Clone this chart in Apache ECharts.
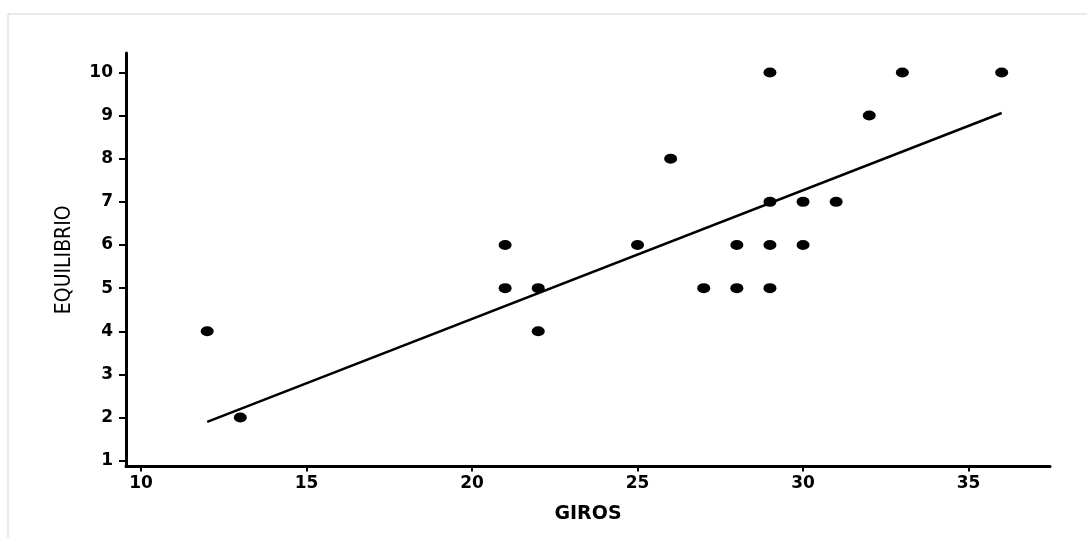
<!DOCTYPE html>
<html>
<head>
<meta charset="utf-8">
<script src="https://cdn.jsdelivr.net/npm/echarts@6/dist/echarts.min.js"></script>
<style>
html,body{margin:0;padding:0;background:#fff;}
#chart{width:1087px;height:538px;}
</style>
</head>
<body>
<div id="chart"></div>
<script>
// Data
const giros      = [12, 13, 21, 21, 22, 22, 25, 26, 27, 28, 28, 29, 29, 29, 29, 30, 30, 31, 32, 33, 36];
const equilibrio = [ 4,  2,  6,  5,  5,  4,  6,  8,  5,  6,  5, 10,  7,  6,  5,  7,  6,  7,  9, 10, 10];
// fitted line end points (as drawn in the reference)
const fitX = [12, 36];
const fitY = [1.9, 9.06];
// tick labels
const xTicks = [10, 15, 20, 25, 30, 35];
const yTicks = [1, 2, 3, 4, 5, 6, 7, 8, 9, 10];

const points = giros.map((g, i) => [g, equilibrio[i]]);
const fitLine = fitX.map((x, i) => [x, fitY[i]]);

const chart = echarts.init(document.getElementById('chart'), null, {renderer: 'canvas'});
const font = '"DejaVu Sans", sans-serif';
chart.setOption({
  animation: false,
  backgroundColor: '#fff',
  graphic: [
    {type: 'line', shape: {x1: 8, y1: 14, x2: 1087, y2: 14}, style: {stroke: '#d4d4d4', lineWidth: 1}},
    {type: 'line', shape: {x1: 8, y1: 14, x2: 8, y2: 538}, style: {stroke: '#d4d4d4', lineWidth: 1}}
  ],
  grid: {left: 126, right: 37, top: 53, bottom: 71.5, containLabel: false},
  xAxis: {
    type: 'value',
    min: 9.547, max: 37.46,
    name: 'GIROS',
    nameLocation: 'middle',
    nameGap: 38,
    nameTextStyle: {fontFamily: font, fontSize: 19, fontWeight: 'bold', color: '#000'},
    splitLine: {show: false},
    axisLine: {show: true, onZero: false, lineStyle: {color: '#000', width: 3}},
    axisTick: {show: true, length: 5, lineStyle: {color: '#000', width: 2}, customValues: xTicks},
    axisLabel: {fontFamily: font, fontSize: 17, fontWeight: 'bold', color: '#000', margin: 9, customValues: xTicks}
  },
  yAxis: {
    type: 'value',
    min: 0.866, max: 10.45,
    name: 'EQUILIBRIO',
    nameLocation: 'middle',
    nameGap: 51,
    nameRotate: 90,
    nameTextStyle: {fontFamily: '"DejaVu Sans Condensed", "DejaVu Sans", sans-serif', fontSize: 21, color: '#000'},
    splitLine: {show: false},
    axisLine: {show: true, onZero: false, lineStyle: {color: '#000', width: 3}},
    axisTick: {show: true, length: 7, lineStyle: {color: '#000', width: 2}, customValues: yTicks},
    axisLabel: {fontFamily: font, fontSize: 17, fontWeight: 'bold', color: '#000', margin: 13, customValues: yTicks}
  },
  series: [
    {
      type: 'scatter',
      data: points,
      symbol: 'circle',
      symbolSize: [13, 10],
      itemStyle: {color: '#000', opacity: 1},
      z: 3
    },
    {
      type: 'line',
      data: fitLine,
      showSymbol: false,
      symbol: 'none',
      lineStyle: {color: '#000', width: 2.5},
      z: 2
    }
  ]
});
</script>
</body>
</html>
